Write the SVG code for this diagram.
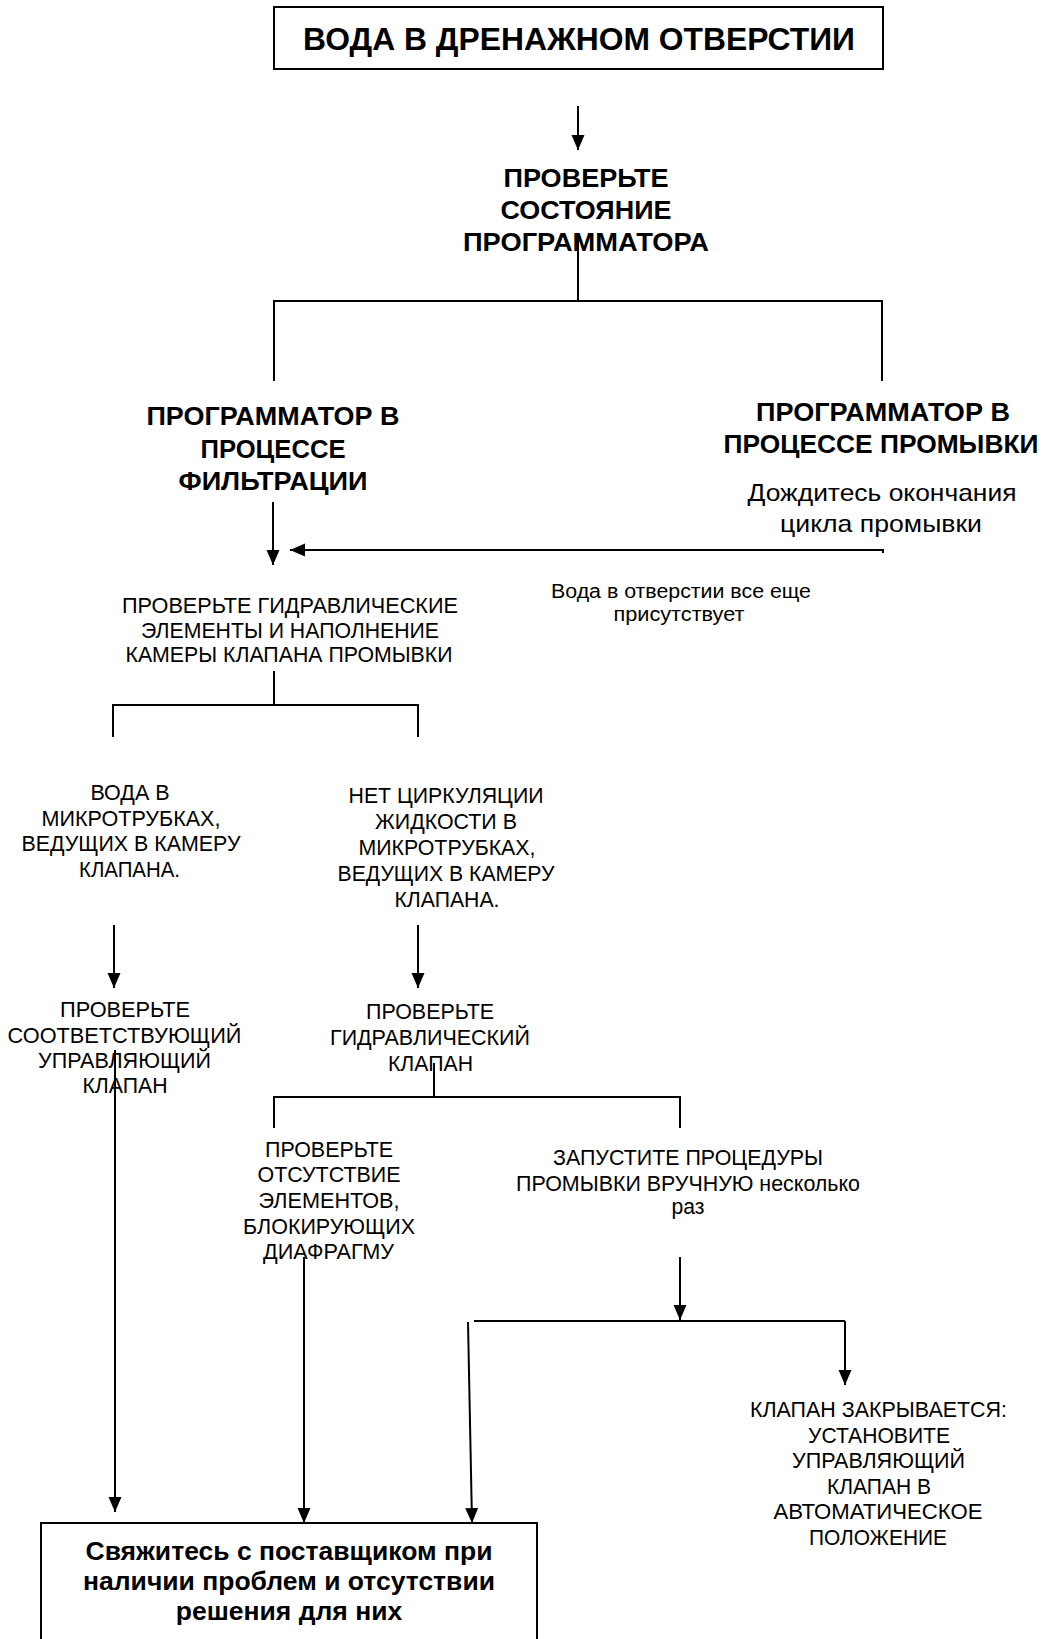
<svg xmlns="http://www.w3.org/2000/svg" width="1046" height="1639" viewBox="0 0 1046 1639">
<style>
text{font-family:"Liberation Sans",Arial,sans-serif;fill:#000;text-anchor:middle}
.t{font-size:31px;font-weight:bold}
.h{font-size:25.5px;font-weight:bold}
.b{font-size:26.5px;font-weight:bold}
.r{font-size:21.5px}
.m{font-size:24px}
.s{font-size:20px}
.box{fill:#fff;stroke:#000;stroke-width:2}
.c{fill:none;stroke:#000;stroke-width:2}
</style>
<defs>
<marker id="ah" markerUnits="userSpaceOnUse" markerWidth="16" markerHeight="14" refX="15" refY="6.5" orient="auto">
<path d="M0,0 L15,6.5 L0,13 z" fill="#000"/>
</marker>
</defs>
<rect width="1046" height="1639" fill="#fff"/>
<g id="connectors">
<path class="c" d="M578,106 V150" marker-end="url(#ah)"/>
<path class="c" d="M578,237 V301 M274,381 V301 H882 V381"/>
<path class="c" d="M273,502 V565" marker-end="url(#ah)"/>
<path class="c" d="M883,553 V550 H290" marker-end="url(#ah)"/>
<path class="c" d="M274,671 V705 M113,737 V705 H418 V737"/>
<path class="c" d="M114,925 V988" marker-end="url(#ah)"/>
<path class="c" d="M418,925 V988" marker-end="url(#ah)"/>
<path class="c" d="M434,1063 V1097 M274,1128 V1097 H680 V1128"/>
<path class="c" d="M115,1050 V1512" marker-end="url(#ah)"/>
<path class="c" d="M304,1257 V1523" marker-end="url(#ah)"/>
<path class="c" d="M680,1257 V1320" marker-end="url(#ah)"/>
<path class="c" d="M474,1321 H845"/>
<path class="c" d="M845,1321 V1385" marker-end="url(#ah)"/>
<path class="c" d="M468,1322 L472,1523" marker-end="url(#ah)"/>
</g>
<g id="n-start">
<rect class="box" x="274" y="7" width="609" height="62"/>
<text class="t" x="579" y="50" textLength="552" lengthAdjust="spacingAndGlyphs">ВОДА В ДРЕНАЖНОМ ОТВЕРСТИИ</text>
</g>
<g id="n-check-programmer">
<text class="h" x="586" y="186.5" textLength="165" lengthAdjust="spacingAndGlyphs">ПРОВЕРЬТЕ</text>
<text class="h" x="586" y="218.5" textLength="171" lengthAdjust="spacingAndGlyphs">СОСТОЯНИЕ</text>
<text class="h" x="586" y="250.5" textLength="246" lengthAdjust="spacingAndGlyphs">ПРОГРАММАТОРА</text>
</g>
<g id="n-filtration">
<text class="h" x="273" y="425" textLength="253" lengthAdjust="spacingAndGlyphs">ПРОГРАММАТОР В</text>
<text class="h" x="273" y="457.5" textLength="145" lengthAdjust="spacingAndGlyphs">ПРОЦЕССЕ</text>
<text class="h" x="273" y="490" textLength="189" lengthAdjust="spacingAndGlyphs">ФИЛЬТРАЦИИ</text>
</g>
<g id="n-backwash">
<text class="h" x="883" y="421" textLength="254" lengthAdjust="spacingAndGlyphs">ПРОГРАММАТОР В</text>
<text class="h" x="881" y="453" textLength="315" lengthAdjust="spacingAndGlyphs">ПРОЦЕССЕ ПРОМЫВКИ</text>
<text class="m" x="882" y="500.5" textLength="269" lengthAdjust="spacingAndGlyphs">Дождитесь окончания</text>
<text class="m" x="881" y="531.5" textLength="202" lengthAdjust="spacingAndGlyphs">цикла промывки</text>
</g>
<g id="l-still-water">
<text class="s" x="681" y="598" textLength="260" lengthAdjust="spacingAndGlyphs">Вода в отверстии все еще</text>
<text class="s" x="679" y="621" textLength="131" lengthAdjust="spacingAndGlyphs">присутствует</text>
</g>
<g id="n-check-hydraulics">
<text class="r" x="290" y="613" textLength="336" lengthAdjust="spacingAndGlyphs">ПРОВЕРЬТЕ ГИДРАВЛИЧЕСКИЕ</text>
<text class="r" x="290" y="637.5" textLength="298" lengthAdjust="spacingAndGlyphs">ЭЛЕМЕНТЫ И НАПОЛНЕНИЕ</text>
<text class="r" x="289" y="662" textLength="327" lengthAdjust="spacingAndGlyphs">КАМЕРЫ КЛАПАНА ПРОМЫВКИ</text>
</g>
<g id="n-water-tubes">
<text class="r" x="130" y="800" textLength="79" lengthAdjust="spacingAndGlyphs">ВОДА В</text>
<text class="r" x="131" y="825.5" textLength="179" lengthAdjust="spacingAndGlyphs">МИКРОТРУБКАХ,</text>
<text class="r" x="131" y="851" textLength="219" lengthAdjust="spacingAndGlyphs">ВЕДУЩИХ В КАМЕРУ</text>
<text class="r" x="129.5" y="876.5" textLength="101" lengthAdjust="spacingAndGlyphs">КЛАПАНА.</text>
</g>
<g id="n-no-circulation">
<text class="r" x="446" y="803" textLength="195" lengthAdjust="spacingAndGlyphs">НЕТ ЦИРКУЛЯЦИИ</text>
<text class="r" x="446" y="829" textLength="142" lengthAdjust="spacingAndGlyphs">ЖИДКОСТИ В</text>
<text class="r" x="447" y="855" textLength="177" lengthAdjust="spacingAndGlyphs">МИКРОТРУБКАХ,</text>
<text class="r" x="446" y="881" textLength="217" lengthAdjust="spacingAndGlyphs">ВЕДУЩИХ В КАМЕРУ</text>
<text class="r" x="447" y="906.5" textLength="105" lengthAdjust="spacingAndGlyphs">КЛАПАНА.</text>
</g>
<g id="n-check-control-valve">
<text class="r" x="125" y="1016.5" textLength="130" lengthAdjust="spacingAndGlyphs">ПРОВЕРЬТЕ</text>
<text class="r" x="124.5" y="1042.5" textLength="234" lengthAdjust="spacingAndGlyphs">СООТВЕТСТВУЮЩИЙ</text>
<text class="r" x="124.5" y="1067.5" textLength="173" lengthAdjust="spacingAndGlyphs">УПРАВЛЯЮЩИЙ</text>
<text class="r" x="125" y="1093" textLength="85" lengthAdjust="spacingAndGlyphs">КЛАПАН</text>
</g>
<g id="n-check-hydraulic-valve">
<text class="r" x="430" y="1019" textLength="128" lengthAdjust="spacingAndGlyphs">ПРОВЕРЬТЕ</text>
<text class="r" x="430" y="1045" textLength="200" lengthAdjust="spacingAndGlyphs">ГИДРАВЛИЧЕСКИЙ</text>
<text class="r" x="430.5" y="1070.5" textLength="85" lengthAdjust="spacingAndGlyphs">КЛАПАН</text>
</g>
<g id="n-check-diaphragm">
<text class="r" x="329" y="1157" textLength="128" lengthAdjust="spacingAndGlyphs">ПРОВЕРЬТЕ</text>
<text class="r" x="329" y="1182" textLength="143" lengthAdjust="spacingAndGlyphs">ОТСУТСТВИЕ</text>
<text class="r" x="329" y="1208" textLength="141" lengthAdjust="spacingAndGlyphs">ЭЛЕМЕНТОВ,</text>
<text class="r" x="329" y="1233.5" textLength="172" lengthAdjust="spacingAndGlyphs">БЛОКИРУЮЩИХ</text>
<text class="r" x="328.5" y="1259" textLength="131" lengthAdjust="spacingAndGlyphs">ДИАФРАГМУ</text>
</g>
<g id="n-manual-backwash">
<text class="r" x="688" y="1165" textLength="270" lengthAdjust="spacingAndGlyphs">ЗАПУСТИТЕ ПРОЦЕДУРЫ</text>
<text class="r" x="688" y="1190.5" textLength="344" lengthAdjust="spacingAndGlyphs">ПРОМЫВКИ ВРУЧНУЮ несколько</text>
<text class="r" x="688" y="1214" textLength="33" lengthAdjust="spacingAndGlyphs">раз</text>
</g>
<g id="n-valve-closes">
<text class="r" x="878.5" y="1416.5" textLength="257" lengthAdjust="spacingAndGlyphs">КЛАПАН ЗАКРЫВАЕТСЯ:</text>
<text class="r" x="879" y="1442.5" textLength="142" lengthAdjust="spacingAndGlyphs">УСТАНОВИТЕ</text>
<text class="r" x="878.5" y="1468" textLength="173" lengthAdjust="spacingAndGlyphs">УПРАВЛЯЮЩИЙ</text>
<text class="r" x="879" y="1493.5" textLength="104" lengthAdjust="spacingAndGlyphs">КЛАПАН В</text>
<text class="r" x="878" y="1519" textLength="209" lengthAdjust="spacingAndGlyphs">АВТОМАТИЧЕСКОЕ</text>
<text class="r" x="878" y="1545" textLength="138" lengthAdjust="spacingAndGlyphs">ПОЛОЖЕНИЕ</text>
</g>
<g id="n-contact-supplier">
<rect class="box" x="41" y="1523" width="496" height="130"/>
<text class="b" x="289" y="1560">Свяжитесь с поставщиком при</text>
<text class="b" x="289" y="1590">наличии проблем и отсутствии</text>
<text class="b" x="289" y="1620">решения для них</text>
</g>
</svg>
